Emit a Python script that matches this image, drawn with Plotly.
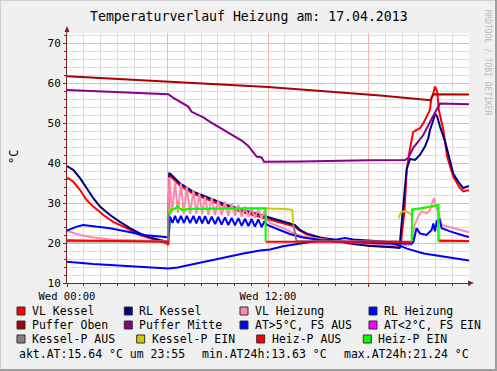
import plotly.graph_objects as go

# ---------------- data (hours since Wed 00:00, °C) ----------------
vl_kessel = [(0, 36.0), (0.08, 36.2), (0.38, 35.3), (0.78, 33.25), (1.17, 30.75), (1.57, 29.1), (2.17, 27.0),
             (2.76, 25.3), (3.56, 23.7), (4.36, 22.0), (5.15, 20.9), (5.6, 20.3), (5.95, 19.9), (6.05, 19.5),
             (6.1, 36.5), (6.15, 36.8), (6.75, 34.3), (7.54, 32.3), (8.54, 30.7), (9.53, 29.0), (10.53, 27.7),
             (11.52, 26.5), (12.12, 25.7), (12.9, 24.9), (13.6, 24.1), (13.9, 23.1), (14.3, 22.2), (15.1, 21.2),
             (16.1, 20.4), (17.1, 19.7), (18.1, 19.3), (19.2, 19.1), (19.9, 19.0), (20.15, 28.0), (20.28, 38.25),
             (20.48, 43.7), (20.67, 47.8), (21.07, 48.7), (21.27, 49.9), (21.47, 51.6), (21.67, 53.25), (21.75, 56.2),
             (21.87, 57.4), (21.97, 59.1), (22.1, 57.9), (22.2, 53.25), (22.47, 48.25), (22.7, 41.5), (23.06, 36.6),
             (23.46, 33.7), (23.66, 32.9), (23.86, 33.1), (24, 33.1)]
rl_kessel = [(0, 39.25), (0.38, 38.25), (0.78, 36.2), (1.17, 33.7), (1.57, 31.2), (1.97, 29.1), (2.57, 27.0),
             (3.16, 25.3), (3.76, 23.7), (4.36, 22.4), (4.96, 21.4), (5.55, 20.75), (6.0, 20.3), (6.05, 20.5),
             (6.1, 37.4), (6.15, 37.4), (6.75, 34.9), (7.54, 32.8), (8.54, 31.2), (9.53, 29.5), (10.53, 28.25),
             (11.52, 27.0), (12.12, 26.2), (12.9, 25.3), (13.6, 24.5), (13.9, 23.25), (14.3, 22.4), (15.1, 21.4),
             (16.1, 20.75), (17.1, 19.9), (18.1, 19.25), (19.2, 19.0), (19.85, 18.75), (19.98, 25.0), (20.18, 33.25),
             (20.28, 38.5), (20.48, 41.0), (20.78, 40.75), (21.07, 42.0), (21.37, 44.1), (21.57, 46.2), (21.67, 48.25),
             (21.87, 50.75), (21.97, 52.4), (22.1, 51.6), (22.27, 49.1), (22.57, 45.4), (22.87, 40.75), (23.06, 37.4),
             (23.36, 35.3), (23.66, 33.7), (23.86, 34.1), (24, 34.2)]
vl_heizung = [(0, 23.0), (0.4, 22.4), (0.78, 22.0), (1.57, 21.4), (2.57, 20.9), (3.56, 20.75), (5.55, 20.6),
              (6.05, 20.4), (6.1, 36.5), (6.28, 27.5), (6.45, 35.3), (6.62, 27.5), (6.8, 34.9), (6.98, 27.3),
              (7.15, 34.1), (7.35, 27.3), (7.55, 33.25), (7.72, 27.2), (7.9, 32.4), (8.07, 27.2), (8.24, 31.6),
              (8.44, 27.0), (8.64, 31.2), (8.84, 27.0), (9.03, 30.75), (9.23, 27.0), (9.43, 30.3), (9.63, 26.8),
              (9.83, 29.9), (10.03, 26.8), (10.23, 29.5), (10.43, 26.6), (10.63, 29.1), (10.83, 26.5), (11.02, 28.7),
              (11.22, 26.3), (11.42, 28.5), (11.62, 26.2), (11.8, 28.0), (11.92, 25.8), (12.12, 25.0), (12.9, 23.7),
              (13.6, 22.3), (14.1, 21.6), (15.1, 21.0), (16.1, 20.5), (17.1, 20.1), (18.1, 19.8), (19.2, 19.5),
              (20.0, 19.4), (20.55, 19.5), (20.75, 24.5), (20.97, 26.6), (21.17, 27.9), (21.47, 27.4), (21.67, 28.25),
              (21.83, 30.3), (21.91, 31.2), (22.03, 29.1), (22.2, 27.4), (22.37, 24.5), (23.06, 23.7), (23.76, 22.9),
              (24, 22.7)]
rl_heizung = [(0, 23.1), (0.58, 24.1), (0.97, 24.5), (1.57, 24.25), (2.57, 23.7), (3.56, 22.9), (4.56, 22.0),
              (5.55, 21.6), (6.05, 21.4), (6.1, 23.0), (6.15, 26.6), (6.3, 25.0), (6.45, 26.8), (6.62, 25.0),
              (6.8, 26.8), (6.98, 25.0), (7.15, 26.8), (7.35, 25.0), (7.55, 26.8), (7.72, 24.9), (7.9, 26.7),
              (8.07, 24.9), (8.24, 26.7), (8.44, 24.8), (8.64, 26.6), (8.84, 24.7), (9.03, 26.5), (9.23, 24.6),
              (9.43, 26.4), (9.63, 24.5), (9.83, 26.3), (10.03, 24.4), (10.23, 26.2), (10.43, 24.3), (10.63, 26.1),
              (10.83, 24.2), (11.02, 26.0), (11.22, 24.1), (11.42, 25.9), (11.62, 24.0), (11.8, 25.5), (11.92, 24.6),
              (12.12, 24.3), (12.7, 23.25), (13.3, 22.25), (14.1, 21.4), (15.1, 20.75), (16.1, 20.3), (17.1, 20.2),
              (18.1, 20.0), (19.2, 19.9), (20.6, 19.9), (20.68, 20.3), (20.87, 23.7), (21.07, 22.4), (21.47, 22.0),
              (21.77, 23.25), (21.87, 24.9), (21.97, 22.9), (22.07, 25.4), (22.22, 26.1), (22.37, 23.7),
              (22.87, 22.9), (23.76, 21.75), (24, 21.5)]
puffer_oben = [(0, 61.7), (6, 60.3), (12, 59.0), (18.7, 56.9), (21.7, 55.7), (21.87, 57.2), (24, 57.1)]
puffer_mitte = [(0, 58.25), (6.05, 57.2), (6.35, 56.3), (6.74, 55.3), (7.04, 54.5), (7.24, 54.1), (7.44, 52.8),
                (7.74, 52.2), (8.14, 51.4), (8.54, 50.3), (8.94, 49.3), (9.33, 48.25), (9.73, 47.25), (10.03, 46.4),
                (10.43, 45.6), (10.82, 44.25), (11.12, 42.8), (11.32, 41.6), (11.62, 41.4), (11.76, 40.3),
                (14, 40.4), (16, 40.6), (18, 40.7), (20.18, 40.75), (20.38, 41.3), (20.67, 43.8), (21.27, 47.0),
                (21.87, 51.8), (22.27, 54.9), (24, 54.7)]
at_warm = [(0, 15.3), (1.57, 14.75), (3.56, 14.25), (5.55, 13.8), (6.05, 13.63), (6.6, 13.9), (7.54, 14.75),
           (8.54, 15.6), (9.53, 16.6), (10.53, 17.4), (11.52, 18.1), (12.12, 18.4), (12.9, 19.2), (13.9, 19.9),
           (14.9, 20.5), (16.1, 20.9), (16.6, 21.24), (17.1, 20.9), (17.9, 20.6), (18.9, 20.4), (19.7, 19.6),
           (20.3, 18.6), (21.3, 17.4), (22.5, 16.6), (23.86, 15.64), (24, 15.6)]
at_cold = []
kessel_p_aus = [(0, 20.4), (6.05, 20.4), (6.07, 27.6), (6.08, None), (13.5, 24.8), (13.7, 20.5), (19.78, 20.4),
                (19.79, None), (22.18, 20.4), (24, 20.4)]
kessel_p_ein = [(6.07, 27.6), (6.15, 28.4), (6.5, 28.6), (7, 28.5), (8, 28.6), (9, 28.6), (10, 28.7), (11, 28.7),
                (12, 28.6), (13, 28.5), (13.45, 28.3), (13.5, 24.8), (13.51, None), (19.78, 26.2), (19.98, 27.9),
                (20.28, 27.9), (20.58, 27.0), (20.68, 28.3), (21.5, 28.9), (22.17, 29.3), (22.18, 20.4)]
heiz_p_aus = [(0, 20.7), (3, 20.5), (6.08, 20.3), (6.09, None), (11.86, 20.3), (16, 20.3), (20.58, 20.3),
              (20.59, None), (22.18, 20.6), (24, 20.5)]
heiz_p_ein = [(6.12, 27.0), (6.2, 28.3), (6.45, 28.6), (6.6, 29.2), (6.75, 28.5), (6.9, 28.2), (7.3, 28.5),
              (8, 28.5), (9, 28.6), (10, 28.6), (11, 28.7), (11.85, 28.7), (11.86, 20.3), (11.87, None),
              (20.58, 20.3), (20.6, 28.4), (21, 28.6), (21.5, 28.9), (22, 29.3), (22.17, 29.5), (22.18, 20.4)]

legend_labels = ["VL Kessel", "RL Kessel", "VL Heizung", "RL Heizung",
                 "Puffer Oben", "Puffer Mitte", "AT>5°C, FS AUS", "AT<2°C, FS EIN",
                 "Kessel-P AUS", "Kessel-P EIN", "Heiz-P AUS", "Heiz-P EIN"]
x_tick_vals = [0, 6, 12, 18]
x_tick_text = ["Wed 00:00", "", "Wed 12:00", ""]
y_tick_vals = [10, 20, 30, 40, 50, 60, 70]
title_text = "Temperaturverlauf Heizung am: 17.04.2013"
akt_at, akt_time, min_at, max_at = 15.64, "23:55", 13.63, 21.24

series = [vl_kessel, rl_kessel, vl_heizung, rl_heizung, puffer_oben, puffer_mitte,
          at_warm, at_cold, kessel_p_aus, kessel_p_ein, heiz_p_aus, heiz_p_ein]
colors = ["#FF0000", "#00007F", "#FF88AA", "#0000FF", "#AA0000", "#880088",
          "#0000FF", "#FF00FF", "#808080", "#CCCC00", "#FF0000", "#00FF00"]

# ---------------- geometry ----------------
W, H = 497, 371
L, R, T, B = 67, 28, 33, 88
PW, PH = W - L - R, H - T - B
def px(x):
    return (x - L) / PW
def py(y):
    return (H - B - y) / PH

MONO = "DejaVu Sans Mono"
AXIS = "#802020"

fig = go.Figure()
for name, data, col in zip(legend_labels, series, colors):
    fig.add_trace(go.Scatter(x=[p[0] for p in data], y=[p[1] for p in data], mode="lines",
                             name=name, line=dict(color=col, width=2), connectgaps=False,
                             showlegend=False, hoverinfo="skip"))

shapes = []
ann = []
# border shading
shapes.append(dict(type="line", xref="paper", yref="paper", x0=px(0), x1=px(W), y0=py(0.5), y1=py(0.5),
                   line=dict(color="#CFCFCF", width=1)))
shapes.append(dict(type="line", xref="paper", yref="paper", x0=px(0.5), x1=px(0.5), y0=py(0), y1=py(H),
                   line=dict(color="#CFCFCF", width=1)))
shapes.append(dict(type="line", xref="paper", yref="paper", x0=px(0), x1=px(W), y0=py(H - 1), y1=py(H - 1),
                   line=dict(color="#9E9E9E", width=2)))
shapes.append(dict(type="line", xref="paper", yref="paper", x0=px(W - 1), x1=px(W - 1), y0=py(0), y1=py(H),
                   line=dict(color="#9E9E9E", width=2)))
# axis arrows
shapes.append(dict(type="path", xref="paper", yref="paper",
                   path=f"M {px(468)} {py(280.5)} L {px(474)} {py(283)} L {px(468)} {py(285.5)} Z",
                   fillcolor=AXIS, line=dict(width=0)))
shapes.append(dict(type="path", xref="paper", yref="paper",
                   path=f"M {px(64.5)} {py(32)} L {px(67)} {py(26)} L {px(69.5)} {py(32)} Z",
                   fillcolor=AXIS, line=dict(width=0)))
shapes.append(dict(type="line", xref="paper", yref="paper", x0=px(67), x1=px(67), y0=py(33), y1=py(30),
                   line=dict(color=AXIS, width=1)))

# legend
col_x = [[17, 124.3, 240, 369], [17, 124.3, 240, 369], [17, 136.7, 256.7, 363.3]]
row_y = [311, 325, 339]
for r in range(3):
    for c in range(4):
        i = r * 4 + c
        x0 = col_x[r][c]
        yc = row_y[r]
        shapes.append(dict(type="rect", xref="paper", yref="paper", x0=px(x0), x1=px(x0 + 8),
                           y0=py(yc - 4), y1=py(yc + 4), fillcolor=colors[i],
                           line=dict(color="#303030", width=1)))
        ann.append(dict(x=px(x0 + 13), y=py(yc), xref="paper", yref="paper", text=legend_labels[i],
                        showarrow=False, xanchor="left", yanchor="middle",
                        font=dict(family=MONO, size=11.5, color="#000000")))

# summary line
summary = [(17, f"akt.AT:{akt_at:.2f} °C um {akt_time}"), (200, f"min.AT24h:{min_at:.2f} °C"),
           (342.3, f"max.AT24h:{max_at:.2f} °C")]
for x0, txt in summary:
    ann.append(dict(x=px(x0), y=py(353.5), xref="paper", yref="paper", text=txt, showarrow=False,
                    xanchor="left", yanchor="middle", font=dict(family=MONO, size=11.5, color="#000000")))

# title, unit, watermark
ann.append(dict(x=px(249), y=py(17), xref="paper", yref="paper", text=title_text, showarrow=False,
                xanchor="center", yanchor="middle", font=dict(family=MONO, size=13.2, color="#000000")))
ann.append(dict(x=px(14), y=py(157), xref="paper", yref="paper", text="°C", showarrow=False, textangle=-90,
                xanchor="center", yanchor="middle", font=dict(family=MONO, size=12, color="#000000")))
ann.append(dict(x=px(487.5), y=py(62), xref="paper", yref="paper", text="RRDTOOL / TOBI OETIKER",
                showarrow=False, textangle=90, xanchor="center", yanchor="middle",
                font=dict(family=MONO, size=8, color="#BBBBBB")))

fig.update_layout(
    template="none", width=W, height=H, autosize=False,
    margin=dict(l=L, r=R, t=T, b=B, pad=0),
    paper_bgcolor="#F0F0F0", plot_bgcolor="#FFFFFF",
    showlegend=False, shapes=shapes, annotations=ann,
    xaxis=dict(range=[0, 24], tickmode="array", tickvals=x_tick_vals, ticktext=x_tick_text,
               showgrid=True, gridcolor="#F5B5B5", gridwidth=1, zeroline=False,
               showline=True, linecolor=AXIS, linewidth=1, ticks="outside", ticklen=3, tickcolor=AXIS,
               tickfont=dict(family=MONO, size=10.5, color="#000000"), automargin=False,
               minor=dict(tickmode="linear", tick0=0, dtick=1, showgrid=True, gridcolor="#DDDDDD",
                          gridwidth=1, ticks="outside", ticklen=2, tickcolor=AXIS)),
    yaxis=dict(range=[10, 72.5], tickmode="array", tickvals=y_tick_vals,
               showgrid=True, gridcolor="#F5B5B5", gridwidth=1, zeroline=False,
               showline=True, linecolor=AXIS, linewidth=1, ticks="outside", ticklen=3, tickcolor=AXIS,
               tickfont=dict(family=MONO, size=11, color="#000000"), automargin=False,
               minor=dict(tickmode="linear", tick0=10, dtick=2, showgrid=True, gridcolor="#DDDDDD",
                          gridwidth=1, ticks="outside", ticklen=2, tickcolor=AXIS)),
)

fig.write_html("out.html", config={"displayModeBar": False, "staticPlot": True},
               post_script="document.body.style.margin='0';document.body.style.padding='0';"
                           "document.body.style.overflow='hidden';")
